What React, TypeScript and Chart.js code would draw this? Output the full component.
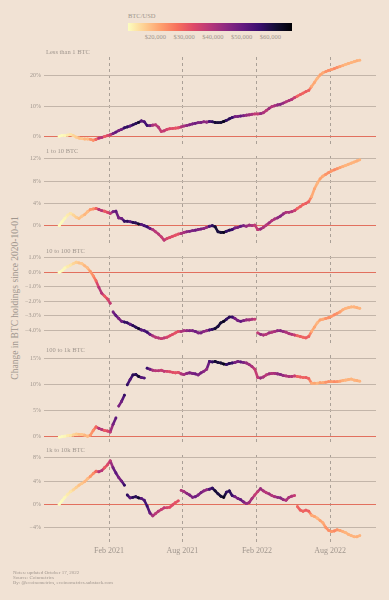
import React, { useEffect, useRef } from "react";
import { Chart, registerables } from "chart.js";

Chart.register(...registerables);

// ---------- DATA (weekly samples starting 2020-10-01) ----------
const START_DATE = "2020-10-01";
const STEP_DAYS = 7;

// BTC/USD closing price, thousands of USD
const BTC_PRICE_K = [
  10.6, 10.9, 11.4, 12.9, 13.5, 15.5, 16.3, 17.8, 17.1, 19.2, 18.3, 22.8, 23.7, 29.0,
  39.4, 39.2, 30.8, 33.4, 37.6, 47.9, 51.6, 47.0, 48.4, 57.3, 57.9, 51.7, 58.9, 58.0, 63.1, 51.7, 53.5,
  56.4, 49.7, 40.6, 38.4, 39.1, 36.7, 38.0, 34.6, 33.5, 32.8, 31.8, 32.3, 40.0,
  40.9, 44.4, 46.7, 46.9, 49.3, 46.4, 47.8, 44.9, 43.8, 53.8, 57.4, 62.2, 60.6,
  61.4, 64.9, 56.9, 58.9, 56.5, 47.6, 47.6, 50.8, 47.1,
  43.1, 42.6, 40.7, 37.2, 37.3, 43.6, 40.5, 38.3, 42.5, 39.4, 40.9, 44.0, 45.5,
  43.5, 39.9, 40.5, 39.7, 36.5, 29.0, 30.3, 29.2, 30.5, 30.1, 20.4, 21.1, 19.0,
  21.6, 20.6, 23.2, 23.8, 22.6, 24.4, 23.3, 21.6, 20.1, 19.3, 19.7, 19.4, 19.5, 20.0, 19.4,
];

const LESS_THAN_1 = [
  0.0, 0.3, 0.2, 0.4, 0.6, 0.2, -0.3, -0.6, -0.8, -0.9,
  -0.9, -1.0, -1.3, -1.0, -0.6, -0.4, -0.1, 0.2, 0.5, 0.9,
  1.4, 1.9, 2.3, 2.8, 3.1, 3.4, 3.8, 4.2, 4.6, 5.1,
  4.8, 3.6, 3.5, 3.7, 3.8, 3.0, 1.6, 1.8, 2.3, 2.5,
  2.6, 2.7, 2.8, 3.1, 3.4, 3.6, 3.8, 4.1, 4.3, 4.5,
  4.6, 4.8, 4.7, 4.9, 4.8, 4.6, 4.5, 4.6, 4.9, 5.3,
  5.8, 6.2, 6.5, 6.6, 6.7, 6.8, 7.0, 7.1, 7.3, 7.4,
  7.4, 7.5, 7.8, 8.5, 9.2, 9.8, 10.1, 10.4, 10.6, 11.0,
  11.4, 11.8, 12.2, 12.8, 13.3, 13.8, 14.3, 14.8, 15.2, 16.5,
  17.8, 19.2, 20.3, 21.0, 21.4, 21.8, 22.1, 22.4, 22.8, 23.1,
  23.4, 23.8, 24.1, 24.4, 24.7, 25.0, 25.2,
];

const ONE_TO_10 = [
  0.0, 0.7, 1.3, 1.9, 2.2, 1.9, 1.5, 1.3, 1.7, 2.0,
  2.5, 2.9, 3.0, 3.1, 2.9, 2.7, 2.6, 2.4, 2.2, 2.5,
  2.6, 1.4, 1.3, 0.8, 0.8, 0.7, 0.6, 0.5, 0.3, 0.2,
  0.0, -0.2, -0.5, -0.7, -1.1, -1.5, -2.0, -2.6, -2.3, -2.1,
  -1.9, -1.7, -1.5, -1.4, -1.2, -1.1, -1.0, -0.9, -0.8, -0.7,
  -0.6, -0.5, -0.3, -0.1, 0.0, -0.2, -1.1, -1.2, -1.2, -1.0,
  -0.8, -0.7, -0.4, -0.3, -0.1, 0.0, -0.1, 0.1, 0.0, 0.1,
  -0.7, -0.6, -0.3, 0.1, 0.5, 0.9, 1.2, 1.4, 1.7, 2.1,
  2.4, 2.4, 2.5, 2.7, 3.1, 3.4, 3.8, 4.0, 4.3, 5.2,
  6.6, 7.6, 8.4, 8.9, 9.2, 9.5, 9.8, 10.0, 10.2, 10.4,
  10.6, 10.8, 11.0, 11.2, 11.4, 11.6, 11.8,
];

const TEN_TO_100 = [
  0.0, 0.1, 0.3, 0.4, 0.5, 0.6, 0.7, 0.65, 0.6, 0.45,
  0.3, 0.05, -0.25, -0.6, -1.05, -1.45, -1.65, -1.85, -2.15, -2.75,
  -3.0, -3.2, -3.4, -3.45, -3.5, -3.6, -3.7, -3.8, -3.9, -4.0,
  -4.05, -4.15, -4.3, -4.4, -4.5, -4.55, -4.6, -4.55, -4.5, -4.4,
  -4.3, -4.2, -4.1, -4.1, -4.05, -4.05, -4.05, -4.05, -4.1, -4.2,
  -4.2, -4.1, -4.05, -4.0, -3.95, -3.9, -3.75, -3.5, -3.4, -3.25,
  -3.1, -3.1, -3.2, -3.35, -3.4, -3.35, -3.3, -3.3, -3.25, -3.25,
  -4.2, -4.3, -4.35, -4.3, -4.2, -4.15, -4.1, -4.05, -4.05, -4.1,
  -4.15, -4.25, -4.3, -4.35, -4.4, -4.45, -4.5, -4.55, -4.45, -4.1,
  -3.8, -3.5, -3.3, -3.25, -3.2, -3.15, -3.05, -2.95, -2.85, -2.75,
  -2.6, -2.5, -2.45, -2.4, -2.4, -2.45, -2.5,
];

const HUNDRED_TO_1K = [
  -0.1, 0.0, 0.1, 0.2, 0.25, 0.35, 0.5, 0.45, 0.4, 0.3,
  0.1, 0.3, 1.2, 1.9, 1.6, 1.4, 1.2, 1.1, 0.9, 2.4,
  3.6, 5.9, 6.8, 8.0, 10.0, 11.0, 11.9, 12.0, 11.6, 11.4,
  11.3, 13.2, 13.0, 12.8, 12.7, 12.7, 12.8, 12.6, 12.6, 12.5,
  12.4, 12.3, 12.4, 12.1, 12.0, 12.2, 12.3, 12.2, 12.1, 11.9,
  12.3, 12.6, 13.0, 14.5, 14.4, 14.5, 14.3, 14.2, 14.0, 13.9,
  14.1, 14.2, 14.3, 14.5, 14.4, 14.3, 14.2, 13.9, 13.5, 13.0,
  11.4, 11.3, 11.5, 11.9, 12.1, 12.2, 12.2, 12.1, 12.0, 11.8,
  11.7, 11.6, 11.6, 11.7, 11.6, 11.5, 11.4, 11.4, 11.2, 10.3,
  10.3, 10.3, 10.4, 10.4, 10.5, 10.6, 10.6, 10.6, 10.6, 10.7,
  10.8, 10.9, 11.0, 11.1, 10.9, 10.8, 10.7,
];

const ONEK_TO_10K = [
  0.0, 0.6, 1.2, 1.7, 2.2, 2.5, 2.9, 3.3, 3.6, 3.9,
  4.4, 4.8, 5.3, 5.7, 5.6, 5.8, 6.3, 6.8, 7.5, 6.3,
  5.4, 4.6, 4.0, 3.3, 1.6, 1.1, 1.2, 1.3, 1.1, 1.0,
  0.7, -0.3, -1.5, -2.0, -1.6, -1.2, -0.9, -0.6, -0.6, -0.5,
  -0.1, 0.3, 0.6, 2.4, 2.2, 1.9, 1.6, 1.2, 1.3, 1.6,
  2.0, 2.3, 2.5, 2.6, 2.8, 2.3, 1.8, 1.4, 1.2, 2.1,
  2.3, 1.5, 1.3, 1.0, 0.8, 0.4, 0.1, 0.3, 1.0, 1.6,
  2.2, 2.7, 2.3, 2.0, 1.8, 1.5, 1.3, 1.2, 1.1, 0.8,
  0.7, 1.2, 1.4, 1.5, -0.4, -1.0, -1.2, -1.0, -1.2, -1.9,
  -2.1, -2.4, -2.8, -3.2, -4.0, -4.5, -4.7, -4.6, -4.4, -4.5,
  -4.7, -4.9, -5.2, -5.4, -5.6, -5.6, -5.4,
];

const PANEL_NAMES = ["Less than 1 BTC", "1 to 10 BTC", "10 to 100 BTC", "100 to 1k BTC", "1k to 10k BTC"];
const PANEL_SERIES = [LESS_THAN_1, ONE_TO_10, TEN_TO_100, HUNDRED_TO_1K, ONEK_TO_10K];
const PANEL_TICKS = [
  [0, 10, 20],
  [0, 4, 8, 12],
  [-4, -3, -2, -1, 0, 1],
  [0, 5, 10, 15],
  [-4, 0, 4, 8],
];
const PANEL_DECIMALS = [0, 0, 1, 0, 0];
const PANEL_MIN = [-2.55, -3.1, -4.9, -1.02, -6.5];
const PANEL_MAX = [26.26, 12.49, 1.13, 15.74, 8.5];

const X_TICK_DAYS = [123, 304, 488, 669];
const X_TICK_LABELS = ["Feb 2021", "Aug 2021", "Feb 2022", "Aug 2022"];
const X_MIN = -37.5;
const X_MAX = 782;

const PRICE_MIN_K = 10.5;
const PRICE_MAX_K = 67.5;
const COLORBAR_TICKS_K = [20, 30, 40, 50, 60];

const FOOTER_LINES = [
  "Notes: updated October 17, 2022",
  "Source: Coinmetrics",
  "By: @ecoinometrics, ecoinometrics.substack.com",
];

// ---------- STYLE ----------
const BG = "#f1e2d4";
const FONT = '"Liberation Serif", "DejaVu Serif", serif';
const TEXT = "#a0968e";
const GRID = "#c3b5a9";
const ZERO = "#e2705e";
const DASH = "#aaa097";

const PANEL_TOPS = [57, 156, 256, 355, 455];
const PANEL_H = 87;
const PAD_T = 10;
const PAD_B = 8;
const X_AXIS_H = 16;
const PLOT_LEFT = 44;
const PLOT_RIGHT = 376;
const W = 389;
const GAP_PX = 8.5;

const MAGMA = [
  "#000004", "#140e36", "#3b0f70", "#641a80", "#8c2981", "#b73779",
  "#de4968", "#f7705c", "#fe9f6d", "#fecf92", "#fcfdbf",
];

function hexToRgb(h: string) {
  return [parseInt(h.slice(1, 3), 16), parseInt(h.slice(3, 5), 16), parseInt(h.slice(5, 7), 16)];
}
const MAGMA_RGB = MAGMA.map(hexToRgb);

function magma(m: number) {
  const t = Math.max(0, Math.min(1, m)) * (MAGMA_RGB.length - 1);
  const i = Math.min(Math.floor(t), MAGMA_RGB.length - 2);
  const f = t - i;
  const a = MAGMA_RGB[i];
  const b = MAGMA_RGB[i + 1];
  const c = a.map((v, k) => Math.round(v + (b[k] - v) * f));
  return `rgb(${c[0]},${c[1]},${c[2]})`;
}

function priceColor(pk: number) {
  const t = (pk - PRICE_MIN_K) / (PRICE_MAX_K - PRICE_MIN_K);
  return magma(1 - t);
}

function dayOf(i: number) {
  return i * STEP_DAYS;
}

function fmtPct(v: number, d: number) {
  const s = Math.abs(v).toFixed(d) + "%";
  return v < 0 ? "\u2212" + s : s;
}

function Panel({ idx }: { idx: number }) {
  const ref = useRef<HTMLCanvasElement | null>(null);
  const isLast = idx === PANEL_SERIES.length - 1;
  const h = PANEL_H + PAD_T + PAD_B + (isLast ? X_AXIS_H : 0);

  useEffect(() => {
    const canvas = ref.current;
    if (!canvas) return;
    const series = PANEL_SERIES[idx];
    const pts = series.map((v, i) => ({ x: dayOf(i), y: v }));
    const pointColors = series.map((_, i) => priceColor(BTC_PRICE_K[i]));
    const ticks = PANEL_TICKS[idx];

    const chart = new Chart(canvas, {
      type: "line",
      data: {
        datasets: [
          {
            data: pts,
            borderWidth: 2.6,
            borderCapStyle: "round",
            borderJoinStyle: "round",
            pointRadius: 1.4,
            pointHoverRadius: 0,
            pointBorderWidth: 0,
            pointBackgroundColor: pointColors,
            borderColor: pointColors[0],
            tension: 0,
            segment: {
              borderColor: (ctx: any) => {
                const dy = Math.abs(ctx.p1.y - ctx.p0.y);
                if (dy > GAP_PX) return "rgba(0,0,0,0)";
                return priceColor((BTC_PRICE_K[ctx.p0DataIndex] + BTC_PRICE_K[ctx.p1DataIndex]) / 2);
              },
            },
          } as any,
        ],
      },
      options: {
        animation: false,
        responsive: false,
        devicePixelRatio: 1,
        events: [],
        layout: { padding: { left: 0, right: W - PLOT_RIGHT, top: PAD_T, bottom: PAD_B } },
        plugins: { legend: { display: false }, tooltip: { enabled: false } },
        scales: {
          x: {
            type: "linear",
            min: X_MIN,
            max: X_MAX,
            afterBuildTicks: (s: any) => {
              s.ticks = X_TICK_DAYS.map((v) => ({ value: v }));
            },
            afterFit: (s: any) => {
              s.height = isLast ? X_AXIS_H : 0;
            },
            ticks: {
              display: isLast,
              autoSkip: false,
              maxRotation: 0,
              padding: 4,
              color: TEXT,
              font: { family: FONT, size: 8 },
              callback: (v: any) => X_TICK_LABELS[X_TICK_DAYS.indexOf(Number(v))] ?? "",
            },
            grid: { color: DASH, lineWidth: 1, drawTicks: false },
            border: { display: false, dash: [3, 3] },
          },
          y: {
            type: "linear",
            min: PANEL_MIN[idx],
            max: PANEL_MAX[idx],
            afterBuildTicks: (s: any) => {
              s.ticks = ticks.map((v) => ({ value: v }));
            },
            afterFit: (s: any) => {
              s.width = PLOT_LEFT;
            },
            ticks: {
              padding: 3,
              color: TEXT,
              font: { family: FONT, size: 6 },
              callback: (v: any) => fmtPct(Number(v), PANEL_DECIMALS[idx]),
            },
            grid: {
              drawTicks: false,
              lineWidth: 1,
              color: (ctx: any) => (ctx.tick && ctx.tick.value === 0 ? ZERO : GRID),
            },
            border: { display: false },
          },
        },
      } as any,
    });
    return () => chart.destroy();
  }, [idx]);

  return (
    <canvas
      ref={ref}
      width={W}
      height={h}
      style={{ position: "absolute", left: 0, top: PANEL_TOPS[idx] - PAD_T, width: W, height: h }}
    />
  );
}

export default function App() {
  useEffect(() => {
    document.body.style.margin = "0";
    document.body.style.background = BG;
  }, []);

  const cbLeft = 128;
  const cbWidth = 164;
  const gradient =
    "linear-gradient(to right, " +
    MAGMA.slice()
      .reverse()
      .map((c, i) => `${c} ${(i * 100) / (MAGMA.length - 1)}%`)
      .join(", ") +
    ")";

  const text = (extra: React.CSSProperties): React.CSSProperties => ({
    position: "absolute",
    fontFamily: FONT,
    color: TEXT,
    whiteSpace: "nowrap",
    lineHeight: 1,
    ...extra,
  });

  return (
    <div style={{ position: "absolute", left: 0, top: 0, width: W, height: 600, background: BG, overflow: "hidden" }}>
      {/* colour bar legend */}
      <div style={text({ left: cbLeft, top: 13, fontSize: 6.5 })}>BTC/USD</div>
      <div style={{ position: "absolute", left: cbLeft, top: 22.5, width: cbWidth, height: 8, background: gradient }} />
      {COLORBAR_TICKS_K.map((k) => {
        const x = cbLeft + (cbWidth * (k - PRICE_MIN_K)) / (PRICE_MAX_K - PRICE_MIN_K);
        return (
          <div key={k} style={text({ left: x, top: 33.5, fontSize: 6.5, transform: "translateX(-50%)" })}>
            {"$" + (k * 1000).toLocaleString("en-US")}
          </div>
        );
      })}

      {/* y-axis title */}
      <div
        style={text({
          left: 16,
          top: 298,
          fontSize: 9.5,
          transform: "translate(-50%, -50%) rotate(-90deg)",
        })}
      >
        Change in BTC holdings since 2020-10-01
      </div>

      {PANEL_NAMES.map((name, i) => (
        <React.Fragment key={name}>
          <Panel idx={i} />
          <div style={text({ left: 46, top: PANEL_TOPS[i] - 8.5, fontSize: 6.5 })}>{name}</div>
        </React.Fragment>
      ))}

      {FOOTER_LINES.map((l, i) => (
        <div key={l} style={text({ left: 13, top: 569.5 + i * 5, fontSize: 5 })}>
          {l}
        </div>
      ))}
    </div>
  );
}
